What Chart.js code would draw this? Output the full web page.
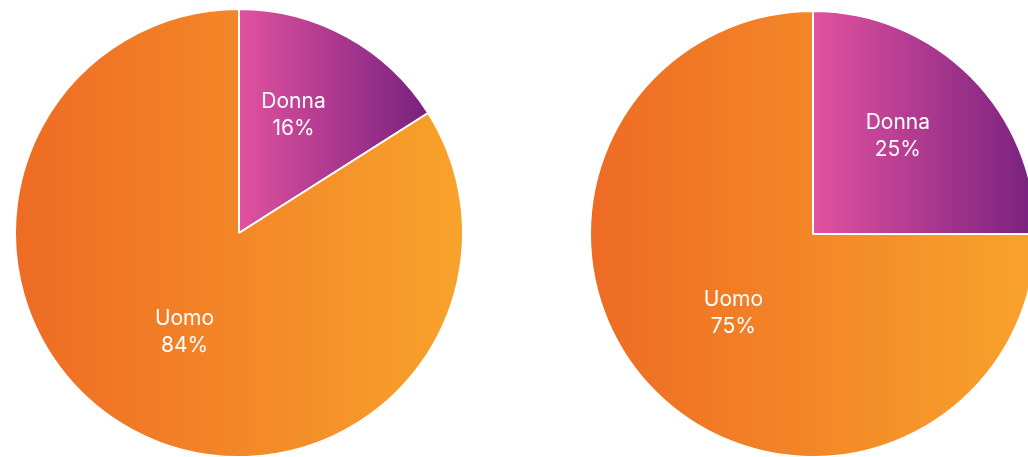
<!DOCTYPE html>
<html>
<head>
<meta charset="utf-8">
<script src="https://cdn.jsdelivr.net/npm/chart.js@4.4.1/dist/chart.umd.min.js"></script>
<style>
    html, body { margin: 0; padding: 0; background: #fff; width: 1028px; height: 457px; overflow: hidden; }
    .pie { position: absolute; }
    #pieLeft { left: 14px; top: 8px; }
    #pieRight { left: 588px; top: 9px; }
</style>
</head>
<body>
<canvas id="pieLeft" class="pie" width="450" height="450"></canvas>
<canvas id="pieRight" class="pie" width="450" height="450"></canvas>
<script>
const categories = ['Donna', 'Uomo'];
const leftValues = [16, 84];
const rightValues = [25, 75];

// horizontal gradient per slice: [left colour, right colour]
const sliceColors = [
    ['#e1519f', '#78217f'],
    ['#ee6b24', '#f8a32b']
];

// label placement per slice: fraction of the radius, and a small turn in degrees
const labelRadius = [0.58, 0.505];
const labelTurn = [-4, 0];

// x range covered by a slice, worked out from the data and the chart area
function sliceExtent(chart, index, radius) {
    const area = chart.chartArea;
    const cx = (area.left + area.right) / 2;
    const values = chart.data.datasets[0].data;
    const total = values.reduce((a, b) => a + b, 0);
    let before = 0;
    for (let i = 0; i < index; i++) before += values[i];
    const start = -Math.PI / 2 + (before / total) * Math.PI * 2;
    const end = start + (values[index] / total) * Math.PI * 2;
    let minX = cx, maxX = cx;
    for (let s = 0; s <= 120; s++) {
        const a = start + (end - start) * s / 120;
        const x = cx + Math.cos(a) * radius;
        minX = Math.min(minX, x);
        maxX = Math.max(maxX, x);
    }
    return [minX, maxX];
}

const sliceLabels = {
    id: 'sliceLabels',
    afterDatasetsDraw(chart) {
        const ctx = chart.ctx;
        const meta = chart.getDatasetMeta(0);
        const values = chart.data.datasets[0].data;
        ctx.save();
        ctx.fillStyle = '#ffffff';
        ctx.font = '21px Inter, "Noto Sans", sans-serif';
        ctx.textAlign = 'center';
        ctx.textBaseline = 'middle';
        meta.data.forEach((arc, i) => {
            const p = arc.getProps(['x', 'y', 'startAngle', 'endAngle', 'outerRadius'], true);
            const mid = (p.startAngle + p.endAngle) / 2 + labelTurn[i] * Math.PI / 180;
            const r = p.outerRadius * labelRadius[i];
            const x = p.x + Math.cos(mid) * r;
            const y = p.y + Math.sin(mid) * r;
            ctx.fillText(chart.data.labels[i], x, y - 13.5);
            ctx.fillText(values[i] + '%', x, y + 13.5);
        });
        ctx.restore();
    }
};

function makePie(id, values, radius) {
    return new Chart(document.getElementById(id), {
        type: 'pie',
        data: {
            labels: categories,
            datasets: [{
                data: values,
                backgroundColor: (c) => {
                    const chart = c.chart;
                    const cols = sliceColors[c.dataIndex] || sliceColors[0];
                    if (!chart.chartArea) return cols[0];
                    const [x0, x1] = sliceExtent(chart, c.dataIndex, radius);
                    const g = chart.ctx.createLinearGradient(x0, 0, x1, 0);
                    g.addColorStop(0, cols[0]);
                    g.addColorStop(1, cols[1]);
                    return g;
                },
                borderColor: '#ffffff',
                borderWidth: 2
            }]
        },
        options: {
            responsive: false,
            animation: false,
            radius: radius,
            layout: { padding: 0 },
            plugins: {
                legend: { display: false },
                tooltip: { enabled: false }
            }
        },
        plugins: [sliceLabels]
    });
}

makePie('pieLeft', leftValues, 224);
makePie('pieRight', rightValues, 223);
</script>
</body>
</html>
